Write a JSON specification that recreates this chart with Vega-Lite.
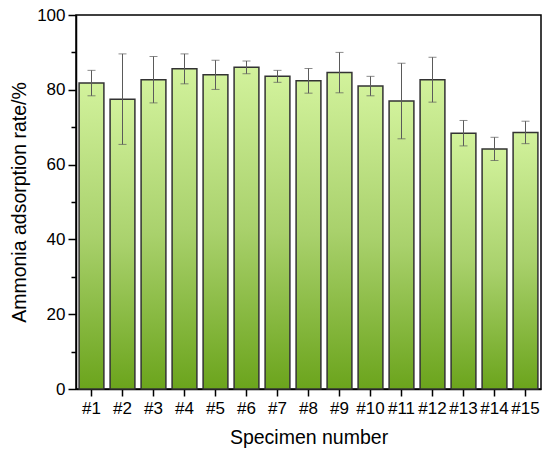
{
  "$schema": "https://vega.github.io/schema/vega-lite/v6.json",
  "width": 465,
  "height": 374,
  "autosize": "none",
  "padding": {"left": 76, "top": 15, "right": 9, "bottom": 68},
  "background": "white",
  "data": {
    "values": [
      {"specimen": "#1", "rate": 81.8, "err": 3.4},
      {"specimen": "#2", "rate": 77.5, "err": 12.1},
      {"specimen": "#3", "rate": 82.7, "err": 6.2},
      {"specimen": "#4", "rate": 85.6, "err": 4.0},
      {"specimen": "#5", "rate": 84.0, "err": 3.9},
      {"specimen": "#6", "rate": 86.0, "err": 1.7},
      {"specimen": "#7", "rate": 83.6, "err": 1.6},
      {"specimen": "#8", "rate": 82.4, "err": 3.3},
      {"specimen": "#9", "rate": 84.6, "err": 5.4},
      {"specimen": "#10", "rate": 81.0, "err": 2.6},
      {"specimen": "#11", "rate": 77.0, "err": 10.1},
      {"specimen": "#12", "rate": 82.7, "err": 6.0},
      {"specimen": "#13", "rate": 68.4, "err": 3.4},
      {"specimen": "#14", "rate": 64.2, "err": 3.1},
      {"specimen": "#15", "rate": 68.6, "err": 3.0}
    ]
  },
  "encoding": {
    "x": {
      "field": "specimen",
      "type": "nominal",
      "sort": null,
      "scale": {"paddingInner": 0.2, "paddingOuter": 0.1},
      "axis": {
        "title": "Specimen number",
        "labelAngle": 0,
        "tickSize": 7,
        "labelPadding": 4,
        "titlePadding": 12
      }
    }
  },
  "layer": [
    {
      "mark": {
        "type": "bar",
        "stroke": "#333333",
        "strokeWidth": 1.5,
        "color": {
          "gradient": "linear",
          "x1": 0, "y1": 0, "x2": 0, "y2": 1,
          "stops": [
            {"offset": 0, "color": "#d2f29c"},
            {"offset": 0.5, "color": "#a9d16c"},
            {"offset": 1, "color": "#6ba41c"}
          ]
        }
      },
      "encoding": {
        "y": {
          "field": "rate",
          "type": "quantitative",
          "scale": {"domain": [0, 100], "nice": false},
          "axis": {
            "title": "Ammonia adsorption rate/%",
            "values": [0, 20, 40, 60, 80, 100],
            "tickSize": 8,
            "labelPadding": 3,
            "titlePadding": 7,
            "grid": false
          }
        }
      }
    },
    {
      "mark": {"type": "errorbar", "ticks": {"size": 8, "color": "#5a5a5a"}, "color": "#5a5a5a", "thickness": 1},
      "encoding": {
        "y": {
          "field": "rate",
          "type": "quantitative",
          "axis": {
            "orient": "left",
            "title": null,
            "values": [10, 30, 50, 70, 90],
            "labels": false,
            "tickSize": 5,
            "domain": false,
            "grid": false
          }
        },
        "yError": {"field": "err"}
      }
    }
  ],
  "resolve": {"axis": {"y": "independent"}},
  "config": {
    "view": {"stroke": "#000000", "strokeWidth": 1.5},
    "axis": {
      "domainColor": "#000000",
      "domainWidth": 1.5,
      "tickColor": "#000000",
      "tickWidth": 1.5,
      "labelColor": "#000000",
      "titleColor": "#000000",
      "labelFont": "Liberation Sans",
      "titleFont": "Liberation Sans",
      "labelFontSize": 17,
      "titleFontSize": 19.5,
      "titleFontWeight": "normal",
      "grid": false
    }
  }
}
